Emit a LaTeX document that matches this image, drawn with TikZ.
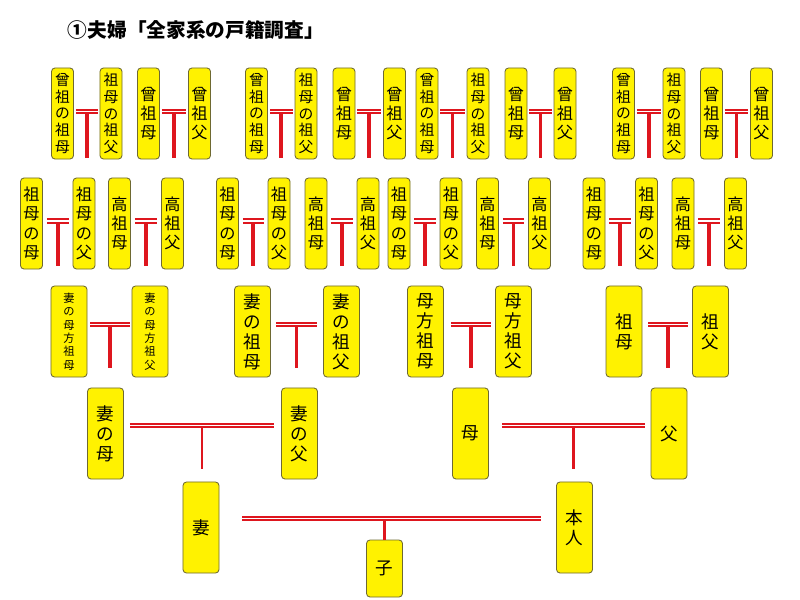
\documentclass[tikz,border=0pt]{standalone}
\usepackage{fontspec}
\newfontfamily\cjk{Noto Sans CJK JP}
\definecolor{wedred}{RGB}{222,22,30}
\definecolor{boxline}{RGB}{110,105,50}
\tikzset{
  kbox/.style={draw=boxline, line width=0.6pt, fill=yellow, rounded corners=2.5pt, inner sep=0pt, align=center, minimum width=0.55cm, minimum height=2.275cm},
  wbox/.style={kbox, minimum width=0.9cm},
  wed/.style={draw=wedred, double=white, line width=1.25pt, double distance=1.4pt},
  stem/.style={draw=wedred, line width=2.8pt},
  stemthin/.style={draw=wedred, line width=2.1pt},
  f3/.style={font=\cjk\fontsize{11.5}{13.5}\selectfont},
  f4/.style={font=\cjk\fontsize{11.5}{13.9}\selectfont},
  f5/.style={font=\cjk\fontsize{10.5}{11.9}\selectfont},
  f6/.style={font=\cjk\fontsize{8}{9.5}\selectfont},
  fl/.style={font=\cjk\fontsize{12.5}{14.2}\selectfont}
}
\begin{document}
\begin{tikzpicture}[x=0.025cm, y=-0.025cm]
\fill[white] (0,0) rectangle (800,599);
\useasboundingbox (0,0) rectangle (800,599);
\node[anchor=west, font=\cjk\bfseries\fontsize{14}{16}\selectfont](title) at (63,30){①夫婦「全家系の戸籍調査」};

\node[kbox,f5](a1) at (62.5,113.5){曾\\祖\\の\\祖\\母};
\node[kbox,f5](a2) at (111,113.5){祖\\母\\の\\祖\\父};
\node[kbox,f3](a3) at (148.5,113.5){曾\\祖\\母};
\node[kbox,f3](a4) at (199.5,113.5){曾\\祖\\父};
\node[kbox,f5](a5) at (256.5,113.5){曾\\祖\\の\\祖\\母};
\node[kbox,f5](a6) at (306,113.5){祖\\母\\の\\祖\\父};
\node[kbox,f3](a7) at (344,113.5){曾\\祖\\母};
\node[kbox,f3](a8) at (394.5,113.5){曾\\祖\\父};
\node[kbox,f5](a9) at (427,113.5){曾\\祖\\の\\祖\\母};
\node[kbox,f5](a10) at (478,113.5){祖\\母\\の\\祖\\父};
\node[kbox,f3](a11) at (516,113.5){曾\\祖\\母};
\node[kbox,f3](a12) at (565,113.5){曾\\祖\\父};
\node[kbox,f5](a13) at (623.5,113.5){曾\\祖\\の\\祖\\母};
\node[kbox,f5](a14) at (674,113.5){祖\\母\\の\\祖\\父};
\node[kbox,f3](a15) at (711.5,113.5){曾\\祖\\母};
\node[kbox,f3](a16) at (761.5,113.5){曾\\祖\\父};
\draw[wed] ([shift={(2,-2)}]a1.east) -- coordinate (m1) ([shift={(-2,-2)}]a2.west);
\draw[stem] ([yshift=-1pt]m1) -- ++(0,45);
\draw[wed] ([shift={(2,-2)}]a3.east) -- coordinate (m2) ([shift={(-2,-2)}]a4.west);
\draw[stem] ([yshift=-1pt]m2) -- ++(0,45);
\draw[wed] ([shift={(2,-2)}]a5.east) -- coordinate (m3) ([shift={(-2,-2)}]a6.west);
\draw[stem] ([yshift=-1pt]m3) -- ++(0,45);
\draw[wed] ([shift={(2,-2)}]a7.east) -- coordinate (m4) ([shift={(-2,-2)}]a8.west);
\draw[stem] ([yshift=-1pt]m4) -- ++(0,45);
\draw[wed] ([shift={(2,-2)}]a9.east) -- coordinate (m5) ([shift={(-2,-2)}]a10.west);
\draw[stem] ([yshift=-1pt]m5) -- ++(0,45);
\draw[wed] ([shift={(2,-2)}]a11.east) -- coordinate (m6) ([shift={(-2,-2)}]a12.west);
\draw[stem] ([yshift=-1pt]m6) -- ++(0,45);
\draw[wed] ([shift={(2,-2)}]a13.east) -- coordinate (m7) ([shift={(-2,-2)}]a14.west);
\draw[stem] ([yshift=-1pt]m7) -- ++(0,45);
\draw[wed] ([shift={(2,-2)}]a15.east) -- coordinate (m8) ([shift={(-2,-2)}]a16.west);
\draw[stem] ([yshift=-1pt]m8) -- ++(0,45);

\node[kbox,f4](b1) at (31.5,223.5){祖\\母\\の\\母};
\node[kbox,f4](b2) at (84,223.5){祖\\母\\の\\父};
\node[kbox,f3](b3) at (119.5,223.5){高\\祖\\母};
\node[kbox,f3](b4) at (172.5,223.5){高\\祖\\父};
\node[kbox,f4](b5) at (227.5,223.5){祖\\母\\の\\母};
\node[kbox,f4](b6) at (279,223.5){祖\\母\\の\\父};
\node[kbox,f3](b7) at (316,223.5){高\\祖\\母};
\node[kbox,f3](b8) at (368,223.5){高\\祖\\父};
\node[kbox,f4](b9) at (399,223.5){祖\\母\\の\\母};
\node[kbox,f4](b10) at (451,223.5){祖\\母\\の\\父};
\node[kbox,f3](b11) at (487.5,223.5){高\\祖\\母};
\node[kbox,f3](b12) at (539.5,223.5){高\\祖\\父};
\node[kbox,f4](b13) at (594,223.5){祖\\母\\の\\母};
\node[kbox,f4](b14) at (646.5,223.5){祖\\母\\の\\父};
\node[kbox,f3](b15) at (683,223.5){高\\祖\\母};
\node[kbox,f3](b16) at (735.5,223.5){高\\祖\\父};
\draw[wed] ([shift={(4,-2.5)}]b1.east) -- coordinate (n1) ([shift={(-4,-2.5)}]b2.west);
\draw[stem] ([yshift=-1pt]n1) -- ++(0,44);
\draw[wed] ([shift={(4,-2.5)}]b3.east) -- coordinate (n2) ([shift={(-4,-2.5)}]b4.west);
\draw[stem] ([yshift=-1pt]n2) -- ++(0,44);
\draw[wed] ([shift={(4,-2.5)}]b5.east) -- coordinate (n3) ([shift={(-4,-2.5)}]b6.west);
\draw[stem] ([yshift=-1pt]n3) -- ++(0,44);
\draw[wed] ([shift={(4,-2.5)}]b7.east) -- coordinate (n4) ([shift={(-4,-2.5)}]b8.west);
\draw[stem] ([yshift=-1pt]n4) -- ++(0,44);
\draw[wed] ([shift={(4,-2.5)}]b9.east) -- coordinate (n5) ([shift={(-4,-2.5)}]b10.west);
\draw[stem] ([yshift=-1pt]n5) -- ++(0,44);
\draw[wed] ([shift={(4,-2.5)}]b11.east) -- coordinate (n6) ([shift={(-4,-2.5)}]b12.west);
\draw[stem] ([yshift=-1pt]n6) -- ++(0,44);
\draw[wed] ([shift={(4,-2.5)}]b13.east) -- coordinate (n7) ([shift={(-4,-2.5)}]b14.west);
\draw[stem] ([yshift=-1pt]n7) -- ++(0,44);
\draw[wed] ([shift={(4,-2.5)}]b15.east) -- coordinate (n8) ([shift={(-4,-2.5)}]b16.west);
\draw[stem] ([yshift=-1pt]n8) -- ++(0,44);

\node[wbox,f6](c1) at (69,331.5){妻\\の\\母\\方\\祖\\母};
\node[wbox,f6](c2) at (150,331.5){妻\\の\\母\\方\\祖\\父};
\node[wbox,fl](c3) at (252.5,331.5){妻\\の\\祖\\母};
\node[wbox,fl](c4) at (341.5,331.5){妻\\の\\祖\\父};
\node[wbox,fl](c5) at (425.5,331.5){母\\方\\祖\\母};
\node[wbox,fl](c6) at (513.5,331.5){母\\方\\祖\\父};
\node[wbox,fl](c7) at (624,331.5){祖\\母};
\node[wbox,fl](c8) at (710.5,331.5){祖\\父};
\draw[wed] ([shift={(3,-7)}]c1.east) -- coordinate (k1) ([shift={(-2,-7)}]c2.west);
\draw[stem] ([yshift=-1pt]k1) -- ++(0,42);
\draw[wed] ([shift={(5,-7)}]c3.east) -- coordinate (k2) ([shift={(-6,-7)}]c4.west);
\draw[stem] ([yshift=-1pt]k2) -- ++(0,42);
\draw[wed] ([shift={(7,-7)}]c5.east) -- coordinate (k3) ([shift={(-4,-7)}]c6.west);
\draw[stem] ([yshift=-1pt]k3) -- ++(0,42);
\draw[wed] ([shift={(6,-7)}]c7.east) -- coordinate (k4) ([shift={(-4,-7)}]c8.west);
\draw[stem] ([yshift=-1pt]k4) -- ++(0,42);

\node[wbox,fl](d1) at (105.5,433.5){妻\\の\\母};
\node[wbox,fl](d2) at (299.5,433.5){妻\\の\\父};
\node[wbox,fl](d3) at (470.5,433.5){母};
\node[wbox,fl](d4) at (669,433.5){父};
\draw[wed] ([shift={(6,-8)}]d1.east) -- coordinate (p1) ([shift={(-7,-8)}]d2.west);
\draw[stemthin] ([yshift=-1pt]p1) -- ++(0,42);
\draw[wed] ([shift={(13,-8)}]d3.east) -- coordinate (p2) ([shift={(-6,-8)}]d4.west);
\draw[stemthin] ([yshift=-1pt]p2) -- ++(0,42);

\node[wbox,fl](wife) at (201,527.5){妻};
\node[wbox,fl](self) at (574.5,527.5){本\\人};
\node[wbox,fl,minimum height=1.425cm](ko) at (384.5,568.5){子};
\path ([shift={(23,-9)}]wife.east) coordinate (q1);
\draw[stemthin] (ko) -- (ko |- q1);
\draw[wed] (q1) -- ([shift={(-15,-9)}]self.west);
\end{tikzpicture}
\end{document}
